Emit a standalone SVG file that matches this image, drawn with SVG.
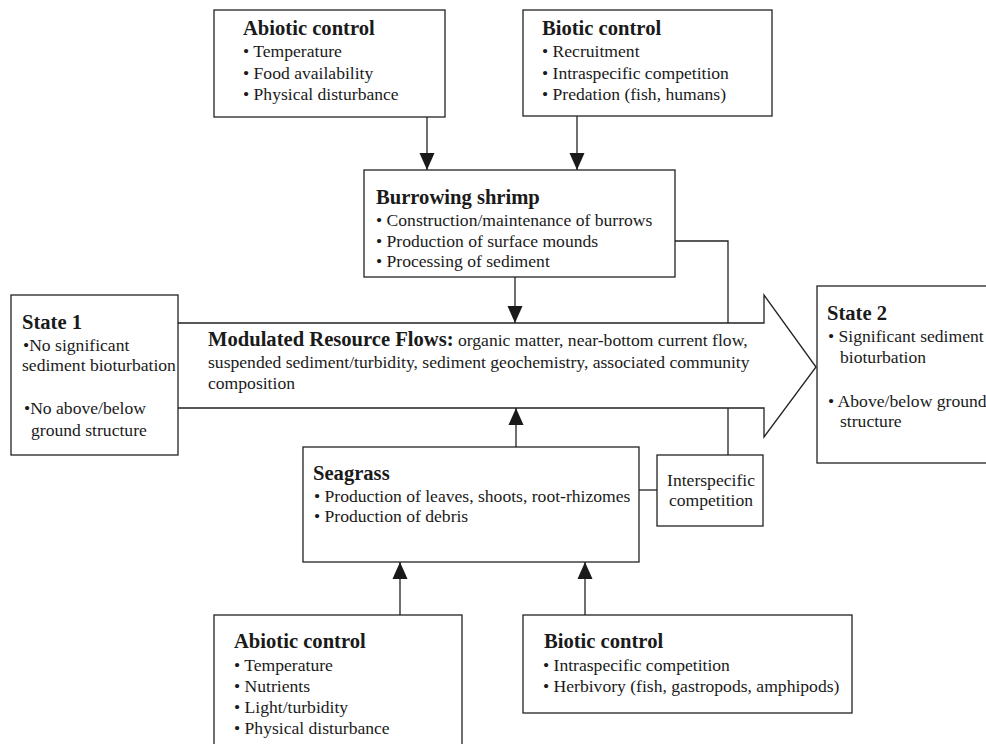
<svg xmlns="http://www.w3.org/2000/svg" width="986" height="744" viewBox="0 0 986 744">
<defs>
<marker id="ah" markerUnits="userSpaceOnUse" markerWidth="17" markerHeight="16" viewBox="0 0 17 16" refX="17" refY="8" orient="auto">
<path d="M0,0.5 L17,8 L0,15.5 Z" fill="#1a1a1a"/>
</marker>
<style>
.box{fill:#fff;stroke:#222;stroke-width:1.3}
.ln{fill:none;stroke:#222;stroke-width:1.3}
.arr{fill:none;stroke:#222;stroke-width:1.3;marker-end:url(#ah)}
text{font-family:"Liberation Serif","Times New Roman",serif;fill:#1a1a1a}
.t{font-size:20.6px;font-weight:bold}
.i{font-size:17.6px}
</style>
</defs>
<rect width="986" height="744" fill="#fff"/>
<g id="connectors">
<polyline class="ln" points="178,323 764,323 764,295 816,367 764,437 764,408 178,408"/>
<line class="arr" x1="427" y1="117" x2="427" y2="170"/>
<line class="arr" x1="577" y1="116" x2="577" y2="170"/>
<line class="arr" x1="515" y1="277" x2="515" y2="323"/>
<polyline class="ln" points="675,241 728,241 728,323"/>
<line class="arr" x1="516" y1="447" x2="516" y2="408"/>
<line class="ln" x1="728" y1="408" x2="728" y2="455"/>
<line class="ln" x1="639" y1="490" x2="657" y2="490"/>
<line class="arr" x1="400" y1="615" x2="400" y2="562"/>
<line class="arr" x1="585" y1="615" x2="585" y2="562"/>
</g>
<g id="flows">
<text x="208" y="346"><tspan class="t">Modulated Resource Flows:</tspan><tspan class="i"> organic matter, near-bottom current flow,</tspan></text>
<text class="i" x="208" y="368">suspended sediment/turbidity, sediment geochemistry, associated community</text>
<text class="i" x="208" y="389">composition</text>
</g>
<g id="abiotic-top">
<rect class="box" x="214" y="10" width="231" height="107"/>
<text class="t" x="243" y="35">Abiotic control</text>
<text class="i" x="243" y="57">• Temperature</text>
<text class="i" x="243" y="79">• Food availability</text>
<text class="i" x="243" y="100">• Physical disturbance</text>
</g>
<g id="biotic-top">
<rect class="box" x="523" y="10" width="249" height="106"/>
<text class="t" x="542" y="35">Biotic control</text>
<text class="i" x="542" y="57">• Recruitment</text>
<text class="i" x="542" y="79">• Intraspecific competition</text>
<text class="i" x="542" y="100">• Predation (fish, humans)</text>
</g>
<g id="shrimp">
<rect class="box" x="364" y="170" width="311" height="107"/>
<text class="t" x="376" y="204">Burrowing shrimp</text>
<text class="i" x="376" y="226">• Construction/maintenance of burrows</text>
<text class="i" x="376" y="247">• Production of surface mounds</text>
<text class="i" x="376" y="267">• Processing of sediment</text>
</g>
<g id="state1">
<rect class="box" x="11" y="295" width="167" height="160"/>
<text class="t" x="22" y="329">State 1</text>
<text class="i" x="23" y="351">•No significant</text>
<text class="i" x="22" y="371">sediment bioturbation</text>
<text class="i" x="24" y="414">•No above/below</text>
<text class="i" x="31" y="436">ground structure</text>
</g>
<g id="state2">
<rect class="box" x="817" y="286" width="200" height="177"/>
<text class="t" x="827" y="320">State 2</text>
<text class="i" x="828" y="342">• Significant sediment</text>
<text class="i" x="840" y="363">bioturbation</text>
<text class="i" x="828" y="407">• Above/below ground</text>
<text class="i" x="840" y="427">structure</text>
</g>
<g id="seagrass">
<rect class="box" x="303" y="447" width="336" height="115"/>
<text class="t" x="313" y="480">Seagrass</text>
<text class="i" x="314" y="502">• Production of leaves, shoots, root-rhizomes</text>
<text class="i" x="314" y="522">• Production of debris</text>
</g>
<g id="interspecific">
<rect class="box" x="657" y="455" width="106" height="71"/>
<text class="i" x="711" y="486" text-anchor="middle">Interspecific</text>
<text class="i" x="711" y="506" text-anchor="middle">competition</text>
</g>
<g id="abiotic-bottom">
<rect class="box" x="214" y="615" width="248" height="150"/>
<text class="t" x="234" y="648">Abiotic control</text>
<text class="i" x="234" y="671">• Temperature</text>
<text class="i" x="234" y="692">• Nutrients</text>
<text class="i" x="234" y="713">• Light/turbidity</text>
<text class="i" x="234" y="734">• Physical disturbance</text>
</g>
<g id="biotic-bottom">
<rect class="box" x="523" y="615" width="329" height="98"/>
<text class="t" x="544" y="648">Biotic control</text>
<text class="i" x="543" y="671">• Intraspecific competition</text>
<text class="i" x="543" y="692">• Herbivory (fish, gastropods, amphipods)</text>
</g>
</svg>
